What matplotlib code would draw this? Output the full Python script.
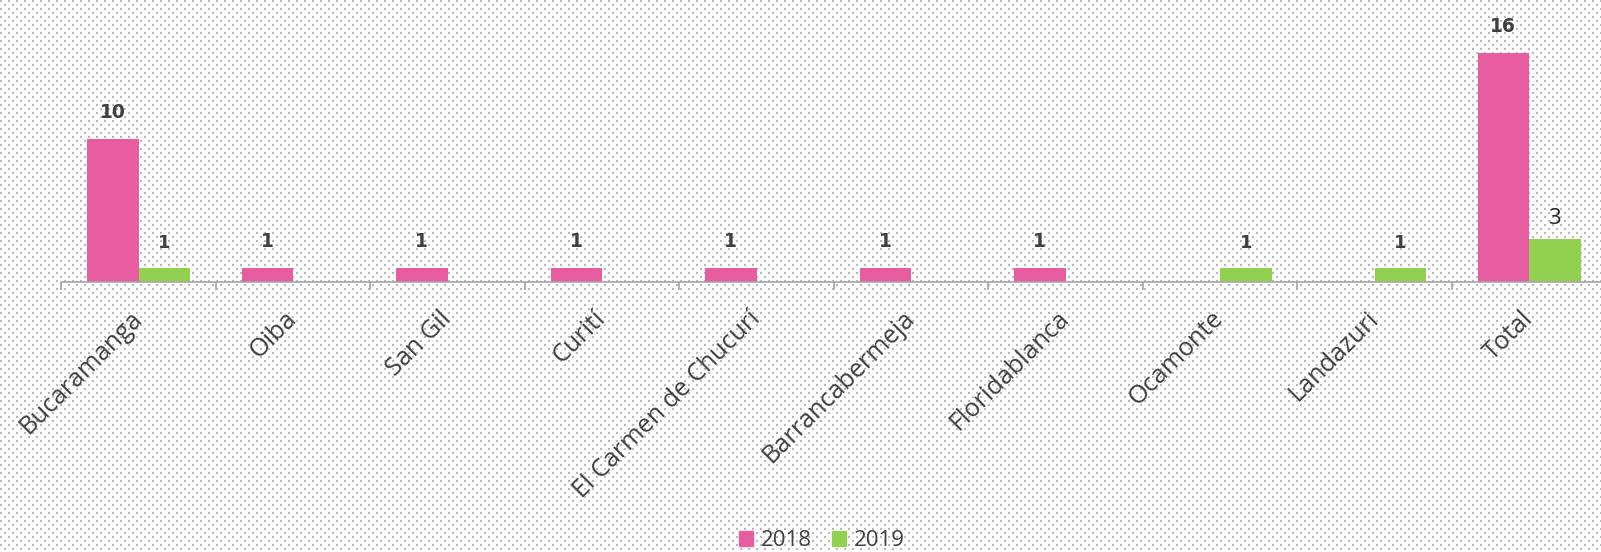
import numpy as np
import matplotlib
matplotlib.use("Agg")
import matplotlib.pyplot as plt
from matplotlib.patches import Patch
import matplotlib.transforms as mtransforms

# datos
municipios = ["Bucaramanga", "Oiba", "San Gil", "Curití", "El Carmen de Chucurí",
              "Barrancabermeja", "Floridablanca", "Ocamonte", "Landazuri", "Total"]
casos_2018 = [10, 1, 1, 1, 1, 1, 1, 0, 0, 16]
casos_2019 = [1, 0, 0, 0, 0, 0, 0, 1, 1, 3]

rosa = "#E85DA0"
verde = "#92D050"
gris_texto = "#404040"

W, H = 1601, 552
fig = plt.figure(figsize=(W / 100, H / 100), dpi=100)

# fondo punteado (patron de puntos)
fondo = np.ones((H, W, 3))
yy, xx = np.mgrid[0:H, 0:W]
fila = yy // 4
puntos = ((yy % 4) < 2) & (((xx + (fila % 2) * 4) % 8) < 2)
fondo[puntos] = 0.72
im = fig.figimage(fondo, xo=0, yo=0, origin="upper", zorder=-10)

ax = fig.add_axes([61.3 / W, 1 - 282 / H, 1545 / W, 282 / H])
ax.patch.set_alpha(0)

x = np.arange(len(municipios))
ancho = 1 / 3
b1 = ax.bar(x - ancho / 2, casos_2018, ancho, color=rosa, linewidth=0, label="2018")
b2 = ax.bar(x + ancho / 2, casos_2019, ancho, color=verde, linewidth=0, label="2019")

ax.set_xlim(-0.5, len(municipios) - 0.5)
ax.set_ylim(0, 282 / 14.3)

# etiquetas de datos
for i, v in enumerate(casos_2018):
    if v:
        ax.annotate(str(v), (x[i] - ancho / 2, v), xytext=(0, 19), textcoords="offset points",
                    ha="center", va="center", fontsize=13.5, fontweight="bold",
                    family="DejaVu Sans", color=gris_texto)
for i, v in enumerate(casos_2019):
    if v:
        if municipios[i] == "Total":
            ax.annotate(str(v), (x[i] + ancho / 2, v), xytext=(0, 15), textcoords="offset points",
                        ha="center", va="center", fontsize=16, family="Open Sans",
                        color="#262626")
        else:
            ax.annotate(str(v), (x[i] + ancho / 2, v), xytext=(0, 18), textcoords="offset points",
                        ha="center", va="center", fontsize=13, fontweight="bold",
                        family="DejaVu Sans", color=gris_texto)

for s in ["top", "right", "left"]:
    ax.spines[s].set_visible(False)
ax.spines["bottom"].set_color("#A6A6A6")
ax.spines["bottom"].set_linewidth(1.2)
ax.set_yticks([])

ax.set_xticks(x)
ax.set_xticklabels(municipios, rotation=45, ha="right", va="center",
                   rotation_mode="anchor", fontsize=18.2, family="Open Sans", color=gris_texto)
ax.tick_params(axis="x", which="major", length=0, pad=0)
desplazamiento = mtransforms.ScaledTranslation(0 / 100, -33 / 100, fig.dpi_scale_trans)
for lbl in ax.get_xticklabels():
    lbl.set_transform(lbl.get_transform() + desplazamiento)
ax.set_xticks(np.arange(-0.5, len(municipios), 1), minor=True)
ax.tick_params(axis="x", which="minor", length=6, width=1.2, color="#A6A6A6")

fig.legend(handles=[Patch(color=rosa, label="2018"), Patch(color=verde, label="2019")],
           loc="center", bbox_to_anchor=(822 / W, 1 - 541 / H), ncol=2, frameon=False,
           handlelength=0.62, handleheight=0.62, handletextpad=0.35, columnspacing=0.9,
           prop={"family": "Open Sans", "size": 16}, labelcolor=gris_texto,
           borderpad=0, borderaxespad=0)

fig.savefig("out.png", dpi=100)
